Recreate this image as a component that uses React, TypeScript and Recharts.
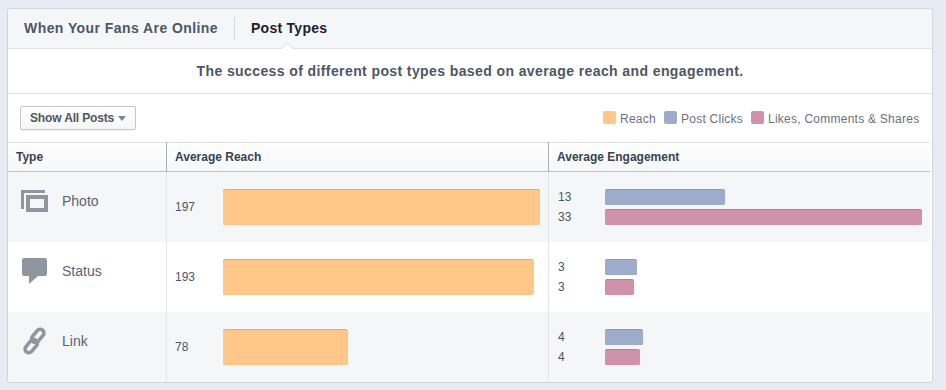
import type { CSSProperties } from 'react';
import { BarChart, Bar, XAxis, YAxis, LabelList, Rectangle } from 'recharts';

const postTypes = ['Photo', 'Status', 'Link'];
const reach = [197, 193, 77.5];
const postClicks = [12.5, 3.33, 3.96];
const engagement = [33, 3.02, 3.64];

const legendItems = ['Reach', 'Post Clicks', 'Likes, Comments & Shares'];
const legendLefts = [603, 664, 751];
const headerLabels = ['Type', 'Average Reach', 'Average Engagement'];
const headerLefts = [16, 175, 557];
const rowBands = ['#f5f6f8', '#ffffff', '#f5f6f8'];

const reachData = postTypes.map((type, i) => ({ type, reach: reach[i] }));
const engagementData = postTypes.map((type, i) => ({
  type,
  clicks: postClicks[i],
  likes: engagement[i],
}));

const FONT = '"Liberation Sans", Arial, sans-serif';
const ICON = '#8f969f';
const TEXT = '#4e5665';

const legendColors = ['#ffc88a', '#9dacca', '#cf92a9'];

const abs = (left: number, top: number, width: number, height: number): CSSProperties => ({
  position: 'absolute',
  left,
  top,
  width,
  height,
});

const edgedBar = (fill: string, edge: string) => (props: any) => {
  const { x, y, width, height } = props;
  return (
    <g>
      <Rectangle x={x} y={y} width={width} height={height} radius={2} fill={edge} />
      <Rectangle x={x} y={y + 1} width={width} height={height - 1} radius={2} fill={fill} />
    </g>
  );
};

const valueLabel = (leftOffset: number) => (props: any) => {
  const { x, y, height, value } = props;
  return (
    <text
      x={x - leftOffset}
      y={y + height / 2}
      dy={4}
      fontSize={12}
      fontFamily={FONT}
      fill={TEXT}
    >
      {Math.round(value)}
    </text>
  );
};

const TypeIcon = ({ type, y }: { type: string; y: number }) => {
  if (type === 'Photo') {
    return (
      <g fill={ICON}>
        <path d={`M21 ${y - 17}h24v3H24v16h-3z`} />
        <path
          fillRule="evenodd"
          d={`M26 ${y - 12}h22v17H26z M30 ${y - 8}v9h14v-9z`}
        />
      </g>
    );
  }
  if (type === 'Status') {
    return (
      <path
        fill={ICON}
        d={`M24 ${y - 19}h21a2 2 0 0 1 2 2v14a2 2 0 0 1-2 2h-7l-9 8v-8h-5a2 2 0 0 1-2-2v-14a2 2 0 0 1 2-2z`}
      />
    );
  }
  // link icon, two capsules turned on the diagonal
  return (
    <g
      fill="none"
      stroke={ICON}
      strokeWidth={3.6}
      transform={`rotate(-50 34.5 ${y - 6})`}
    >
      <rect x={33} y={y - 10.5} width={15} height={7.5} rx={3.75} />
      <rect x={21} y={y - 9} width={15} height={7.5} rx={3.75} />
    </g>
  );
};

const TypeTick = (props: any) => {
  const { y, payload } = props;
  return (
    <g>
      <TypeIcon type={payload.value} y={y} />
      <text x={62} y={y - 1} fontSize={14} fontFamily={FONT} fill="#5b6473">
        {payload.value}
      </text>
    </g>
  );
};

const App = () => {
  return (
    <div style={{ ...abs(0, 0, 946, 390), background: '#e7ebf3', fontFamily: FONT, overflow: 'hidden' }}>
      {/* CARD */}
      <div
        style={{
          ...abs(7, 8, 926, 375),
          boxSizing: 'border-box',
          background: '#fff',
          border: '1px solid #d3d6db',
          borderRadius: 3,
        }}
      />

      {/* TABS */}
      <div style={{ ...abs(8, 9, 924, 39), background: '#f5f6f8', borderBottom: '1px solid #dddfe2', borderRadius: '3px 3px 0 0' }} />
      <div style={{ position: 'absolute', left: 24, top: 20, fontSize: 14, fontWeight: 700, color: TEXT, letterSpacing: 0.43, whiteSpace: 'nowrap' }}>
        When Your Fans Are Online
      </div>
      <div style={abs(234, 17, 1, 23)}>
        <div style={{ width: 1, height: 23, background: '#d7d9dd' }} />
      </div>
      <div style={{ position: 'absolute', left: 251, top: 20, fontSize: 14, fontWeight: 700, color: '#1d2129', letterSpacing: 0.27, whiteSpace: 'nowrap' }}>
        Post Types
      </div>
      <div
        style={{
          ...abs(283, 44, 9, 9),
          background: '#fff',
          borderTop: '1px solid #dddfe2',
          borderLeft: '1px solid #dddfe2',
          transform: 'rotate(45deg)',
          boxSizing: 'border-box',
        }}
      />

      {/* SUBTITLE */}
      <div style={{ position: 'absolute', left: 8, width: 924, top: 63, textAlign: 'center', fontSize: 14, fontWeight: 700, color: TEXT, letterSpacing: 0.4 }}>
        The success of different post types based on average reach and engagement.
      </div>
      <div style={{ ...abs(8, 93, 924, 1), background: '#dddfe2' }} />

      {/* TOOLBAR */}
      <div
        style={{
          ...abs(20, 106, 116, 24),
          boxSizing: 'border-box',
          border: '1px solid #c5c8ce',
          borderRadius: 2,
          background: 'linear-gradient(#ffffff, #f6f7f8)',
          boxShadow: '0 1px 1px rgba(0,0,0,0.05)',
        }}
      />
      <div style={{ position: 'absolute', left: 30, top: 111, fontSize: 12, fontWeight: 700, color: TEXT, letterSpacing: -0.15, whiteSpace: 'nowrap' }}>
        Show All Posts
      </div>
      <div
        style={{
          position: 'absolute',
          left: 118,
          top: 116,
          width: 0,
          height: 0,
          borderLeft: '4.5px solid transparent',
          borderRight: '4.5px solid transparent',
          borderTop: '5px solid #7f8692',
        }}
      />
      {legendItems.map((item, i) => (
        <div key={item}>
          <div style={{ ...abs(legendLefts[i], 111, 13, 13), background: legendColors[i], borderRadius: 2 }} />
          <div style={{ position: 'absolute', left: legendLefts[i] + 17, top: 112, fontSize: 12, color: '#6a7180', letterSpacing: 0.25, whiteSpace: 'nowrap' }}>
            {item}
          </div>
        </div>
      ))}

      {/* TABLE HEADER */}
      <div
        style={{
          ...abs(8, 142, 922, 30),
          boxSizing: 'border-box',
          borderTop: '1px solid #dddfe2',
          borderBottom: '1px solid #bcc0c7',
          background: 'linear-gradient(#ffffff, #f6f7f8)',
        }}
      />
      {headerLabels.map((label, i) => (
        <div key={label} style={{ position: 'absolute', left: headerLefts[i], top: 150, fontSize: 12, fontWeight: 700, color: '#3b4250', whiteSpace: 'nowrap' }}>
          {label}
        </div>
      ))}
      <div style={{ ...abs(166, 142, 1, 30), background: '#a9adb5' }} />
      <div style={{ ...abs(548, 142, 1, 30), background: '#a9adb5' }} />

      {/* ROW BANDS */}
      {rowBands.map((color, i) => (
        <div key={i} style={{ ...abs(8, 172 + i * 70, 922, 70), background: color }} />
      ))}
      <div style={{ ...abs(166, 172, 1, 210), background: '#e3e5e8' }} />
      <div style={{ ...abs(548, 172, 1, 210), background: '#e3e5e8' }} />

      {/* REACH CHART */}
      <div style={abs(0, 172, 548, 210)}>
        <BarChart
          width={548}
          height={210}
          layout="vertical"
          data={reachData}
          margin={{ top: 0, right: 8, bottom: 0, left: 0 }}
        >
          <XAxis type="number" hide domain={[0, 197]} />
          <YAxis
            type="category"
            dataKey="type"
            width={223}
            axisLine={false}
            tickLine={false}
            tick={TypeTick}
            interval={0}
          />
          <Bar
            dataKey="reach"
            barSize={36}
            isAnimationActive={false}
            shape={edgedBar('#ffc88a', '#dfad72')}
          >
            <LabelList dataKey="reach" content={valueLabel(48)} />
          </Bar>
        </BarChart>
      </div>

      {/* ENGAGEMENT CHART */}
      <div style={abs(549, 172, 381, 210)}>
        <BarChart
          width={381}
          height={210}
          layout="vertical"
          data={engagementData}
          barGap={4}
          margin={{ top: 0, right: 8, bottom: 0, left: 56 }}
        >
          <XAxis type="number" hide domain={[0, 33]} />
          <YAxis type="category" dataKey="type" hide />
          <Bar
            dataKey="clicks"
            barSize={16}
            isAnimationActive={false}
            shape={edgedBar('#9dacca', '#8c9ab8')}
          >
            <LabelList dataKey="clicks" content={valueLabel(47)} />
          </Bar>
          <Bar
            dataKey="likes"
            barSize={16}
            isAnimationActive={false}
            shape={edgedBar('#cf92a9', '#b67f95')}
          >
            <LabelList dataKey="likes" content={valueLabel(47)} />
          </Bar>
        </BarChart>
      </div>
    </div>
  );
};

export default App;
